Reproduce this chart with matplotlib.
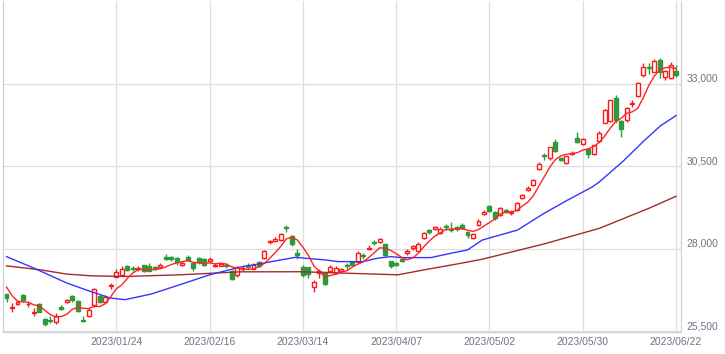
import numpy as np
import pandas as pd
import matplotlib
matplotlib.use('Agg')
import matplotlib.pyplot as plt

plt.rcParams['font.family'] = ['Liberation Sans', 'DejaVu Sans']

# --- daily candles ---
dates = ['2022/12/22', '2022/12/23', '2022/12/26', '2022/12/27', '2022/12/28', '2022/12/29', '2022/12/30',
         '2023/01/04', '2023/01/05', '2023/01/06', '2023/01/10', '2023/01/11', '2023/01/12', '2023/01/13',
         '2023/01/16', '2023/01/17', '2023/01/18', '2023/01/19', '2023/01/20', '2023/01/23', '2023/01/24',
         '2023/01/25', '2023/01/26', '2023/01/27', '2023/01/30', '2023/01/31', '2023/02/01', '2023/02/02',
         '2023/02/03', '2023/02/06', '2023/02/07', '2023/02/08', '2023/02/09', '2023/02/10', '2023/02/13',
         '2023/02/14', '2023/02/15', '2023/02/16', '2023/02/17', '2023/02/20', '2023/02/21', '2023/02/22',
         '2023/02/24', '2023/02/27', '2023/02/28', '2023/03/01', '2023/03/02', '2023/03/03', '2023/03/06',
         '2023/03/07', '2023/03/08', '2023/03/09', '2023/03/10', '2023/03/13', '2023/03/14', '2023/03/15',
         '2023/03/16', '2023/03/17', '2023/03/20', '2023/03/22', '2023/03/23', '2023/03/24', '2023/03/27',
         '2023/03/28', '2023/03/29', '2023/03/30', '2023/03/31', '2023/04/03', '2023/04/04', '2023/04/05',
         '2023/04/06', '2023/04/07', '2023/04/10', '2023/04/11', '2023/04/12', '2023/04/13', '2023/04/14',
         '2023/04/17', '2023/04/18', '2023/04/19', '2023/04/20', '2023/04/21', '2023/04/24', '2023/04/25',
         '2023/04/26', '2023/04/27', '2023/04/28', '2023/05/01', '2023/05/02', '2023/05/08', '2023/05/09',
         '2023/05/10', '2023/05/11', '2023/05/12', '2023/05/15', '2023/05/16', '2023/05/17', '2023/05/18',
         '2023/05/19', '2023/05/22', '2023/05/23', '2023/05/24', '2023/05/25', '2023/05/26', '2023/05/29',
         '2023/05/30', '2023/05/31', '2023/06/01', '2023/06/02', '2023/06/05', '2023/06/06', '2023/06/07',
         '2023/06/08', '2023/06/09', '2023/06/12', '2023/06/13', '2023/06/14', '2023/06/15', '2023/06/16',
         '2023/06/19', '2023/06/20', '2023/06/21', '2023/06/22']

opens = [26623, 26200, 26330, 26615, 26320, 26070, 26330, 25890, 25840, 25790, 26230, 26380, 26570, 26430,
         25840, 25960, 26290, 26590, 26390, 26880, 27160, 27220, 27480, 27430, 27400, 27500, 27480, 27450,
         27450, 27760, 27750, 27740, 27500, 27760, 27570, 27740, 27700, 27650, 27470, 27480, 27500, 27340,
         27200, 27380, 27470, 27400, 27610, 27720, 28200, 28250, 28270, 28640, 28400, 27880, 27460, 27440,
         26840, 27270, 27300, 27320, 27270, 27330, 27500, 27600, 27620, 27820, 27990, 28220, 28200, 28150,
         27640, 27560, 27700, 27880, 28020, 27950, 28330, 28560, 28590, 28480, 28670, 28600, 28660, 28740,
         28520, 28340, 28720, 29070, 29290, 29120, 29030, 29190, 29090, 29180, 29530, 29800, 29930, 30410,
         30850, 30740, 31230, 30770, 30590, 30880, 31370, 31190, 31040, 30890, 31280, 31830, 31890, 32570,
         31880, 31900, 32380, 32640, 33270, 33500, 33370, 33710, 33210, 33190, 33390]

highs = [26650, 26350, 26460, 26650, 26400, 26200, 26350, 25900, 25960, 26050, 26300, 26490, 26600, 26450,
         25960, 26220, 26830, 26620, 26620, 26960, 27400, 27470, 27500, 27470, 27480, 27520, 27560, 27490,
         27560, 27840, 27800, 27760, 27650, 27820, 27600, 27760, 27730, 27750, 27580, 27560, 27560, 27370,
         27470, 27470, 27560, 27560, 27640, 27970, 28280, 28350, 28490, 28740, 28420, 27990, 27500, 27450,
         27070, 27400, 27310, 27520, 27480, 27420, 27580, 27640, 27930, 27880, 28120, 28280, 28320, 28160,
         27650, 27600, 27730, 28000, 28130, 28200, 28510, 28600, 28690, 28670, 28750, 28820, 28700, 28790,
         28550, 28480, 28900, 29170, 29320, 29150, 29280, 29220, 29170, 29420, 29660, 29900, 30120, 30620,
         30920, 31100, 31340, 30800, 30830, 30960, 31530, 31360, 31060, 31160, 31560, 32250, 32520, 32670,
         31920, 32290, 32500, 33050, 33640, 33640, 33750, 33770, 33420, 33650, 33580]

lows = [26400, 26100, 26300, 26400, 26240, 25980, 26080, 25661, 25750, 25720, 26140, 26350, 26400, 26090,
        25780, 25940, 26240, 26360, 26360, 26800, 27140, 27200, 27330, 27330, 27330, 27300, 27320, 27350,
        27420, 27660, 27650, 27520, 27480, 27640, 27320, 27550, 27480, 27600, 27440, 27470, 27420, 27060,
        27150, 27340, 27400, 27380, 27460, 27700, 28160, 28220, 28250, 28520, 28100, 27700, 27150, 27130,
        26700, 27120, 26900, 27290, 27230, 27280, 27400, 27500, 27580, 27700, 27980, 28110, 28170, 27780,
        27430, 27470, 27600, 27830, 27980, 27930, 28300, 28450, 28560, 28440, 28570, 28510, 28550, 28590,
        28340, 28300, 28700, 29030, 29120, 28880, 29000, 29080, 29040, 29150, 29500, 29760, 29900, 30380,
        30700, 30700, 30930, 30650, 30560, 30850, 31200, 31150, 30770, 30860, 31250, 31800, 31850, 31830,
        31400, 31860, 32300, 32600, 33210, 33300, 33350, 33190, 33110, 33150, 33200]

closes = [26507, 26235, 26405, 26447, 26340, 26093, 26094, 25716, 25820, 25973, 26175, 26446, 26449, 26119,
          25822, 26138, 26791, 26405, 26553, 26906, 27299, 27395, 27362, 27382, 27433, 27327, 27346, 27402,
          27509, 27693, 27685, 27606, 27584, 27670, 27427, 27602, 27501, 27696, 27513, 27531, 27473, 27104,
          27453, 27423, 27445, 27516, 27498, 27927, 28237, 28309, 28444, 28623, 28143, 27832, 27222, 27229,
          27010, 27333, 26945, 27466, 27419, 27385, 27476, 27518, 27883, 27782, 28041, 28188, 28287, 27813,
          27472, 27518, 27633, 27923, 28082, 28156, 28493, 28514, 28658, 28606, 28657, 28564, 28593, 28620,
          28416, 28457, 28856, 29123, 29157, 28949, 29242, 29122, 29126, 29388, 29626, 29842, 30093, 30573,
          30808, 31086, 30957, 30682, 30801, 30916, 31233, 31328, 30887, 31148, 31524, 32217, 32506, 31913,
          31641, 32265, 32434, 33018, 33502, 33485, 33706, 33370, 33388, 33575, 33264]

# closes of the four sessions before the first candle (for the 5-day average)
prior_closes = [27527, 27237, 26568, 26387]

# 25-day and 75-day averages, read at points along the lines (candle index, price)
ma25_idx = [0, 5, 11, 15.3, 18.9, 21.6, 26.4, 32.5, 37, 43, 45.8, 50, 52.8, 54.3, 58, 60.4, 65, 67.6,
            70, 71.9, 77.3, 81, 84, 86.7, 93.1, 97.9, 102.2, 106.7, 108, 112.5, 116.2, 119.2, 122]
ma25_val = [27768, 27419, 26967, 26714, 26515, 26464, 26636, 26967, 27217, 27467, 27539, 27669, 27750,
            27720, 27669, 27617, 27617, 27720, 27768, 27738, 27738, 27870, 27970, 28271, 28572, 29075,
            29476, 29876, 30027, 30681, 31283, 31735, 32040]

ma75_idx = [0, 6.2, 11, 15.3, 21.6, 31.6, 42.5, 53.5, 65, 71.3, 76.1, 82.2, 86.7, 97.9, 108, 117.1, 122]
ma75_val = [27488, 27367, 27238, 27187, 27166, 27217, 27307, 27310, 27250, 27217, 27367, 27548, 27690,
            28150, 28623, 29235, 29596]

tick_pos = [20, 37, 54, 71, 88, 105, 122]
price_ticks = [25500, 28000, 30500, 33000]

UP = '#ff1a1a'
DOWN = '#2f9a3c'
LABEL = '#6b7785'
GRID = '#dedede'

df = pd.DataFrame({'date': dates, 'open': opens, 'high': highs, 'low': lows, 'close': closes})
idx = np.arange(len(df))
ma5 = pd.Series(prior_closes + closes).rolling(5).mean().iloc[len(prior_closes):].to_numpy()

fig = plt.figure(figsize=(7.25, 3.54), dpi=100)
ax = fig.add_axes([3 / 725, (354 - 331.5) / 354, 678 / 725, 330.5 / 354])

up = df['close'] >= df['open']
colors = np.where(up, UP, DOWN)

# wicks
ax.vlines(idx, df['low'], df['high'], colors=colors, linewidth=1.0, zorder=2)

# bodies
body_bottom = np.minimum(df['open'], df['close'])
body_height = np.maximum((df['close'] - df['open']).abs(), 28)
w = 0.72
ax.bar(idx[up], body_height[up], bottom=body_bottom[up], width=w,
       facecolor='white', edgecolor=UP, linewidth=1.0, zorder=3)
ax.bar(idx[~up], body_height[~up], bottom=body_bottom[~up], width=w,
       facecolor=DOWN, edgecolor=DOWN, linewidth=1.0, zorder=3)

# moving averages
ax.plot(ma75_idx, ma75_val, color='#a52a2a', linewidth=1.0, zorder=4)
ax.plot(ma25_idx, ma25_val, color='#3535ff', linewidth=1.0, zorder=4)
ax.plot(idx, ma5, color='#ff2222', linewidth=1.0, zorder=4)

ax.set_xlim(-0.64, 122.9)
ax.set_ylim(25500, 35510)

ax.set_xticks(tick_pos)
ax.set_xticklabels([dates[i] for i in tick_pos])
ax.yaxis.tick_right()
ax.set_yticks(price_ticks)
ax.set_yticklabels([f'{v:,}' for v in price_ticks])
plt.setp(ax.get_yticklabels(), va='bottom')
ax.tick_params(axis='both', length=0, labelsize=7.5, labelcolor=LABEL)
ax.tick_params(axis='x', pad=4)
ax.tick_params(axis='y', pad=4)

ax.grid(True, color=GRID, linewidth=0.9)
ax.set_axisbelow(True)
for side in ['left', 'bottom', 'right']:
    ax.spines[side].set_color('#d0d0d0')
    ax.spines[side].set_linewidth(0.9)
ax.spines['top'].set_visible(False)

fig.savefig('out.png', dpi=100)
